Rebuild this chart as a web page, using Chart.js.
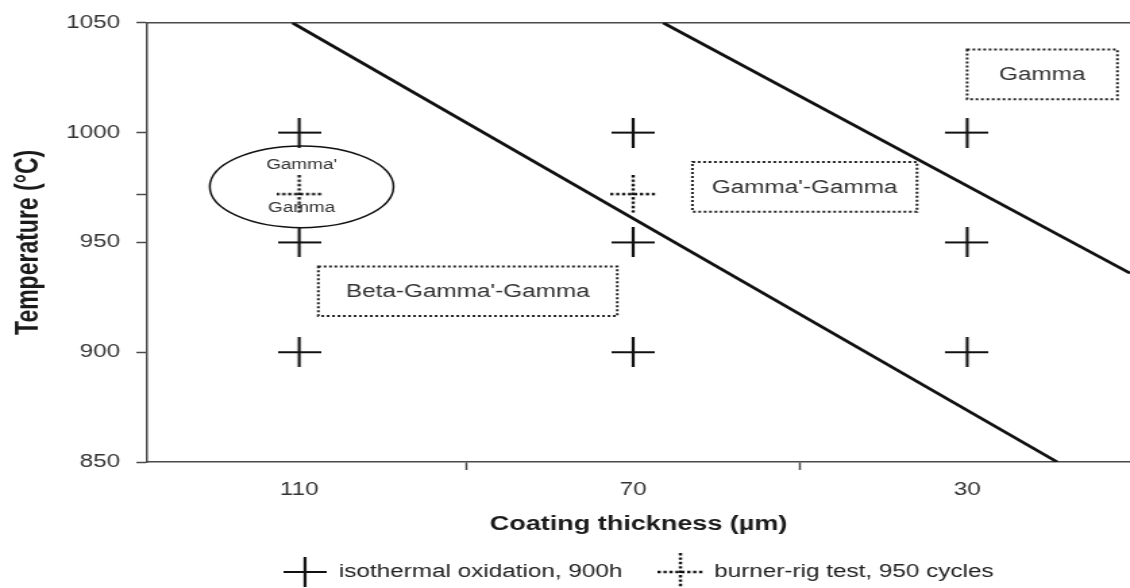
<!DOCTYPE html>
<html>
<head>
<meta charset="utf-8">
<script src="https://cdn.jsdelivr.net/npm/chart.js@4.4.1/dist/chart.umd.min.js"></script>
<style>
  html, body { margin: 0; padding: 0; background: #fff; overflow: hidden; }
  /* the original figure is stretched horizontally, so the whole chart is too */
  #wrap { width: 837px; height: 588px; transform: scaleX(1.35); transform-origin: 0 0; }
  #chart { display: block; width: 837px; height: 588px; }
</style>
</head>
<body>
<div id="wrap"><canvas id="chart" width="837" height="588"></canvas></div>
<script>
'use strict';
/*------------------------------------*\
     Data
\*------------------------------------*/
var thickness = [110, 70, 30];
var isoTemps = [1000, 950, 900];
var burnerThickness = [110, 70];
var burnerTemps = [972, 972];
var limit1Thickness = [110.8, 19.2];
var limit1Temps = [1050, 850];
var limit2Thickness = [66.4, 10.5];
var limit2Temps = [1050, 936];
var xTickValues = [110, 90, 70, 50, 30];
var xTickLabels = ['110', '', '70', '', '30'];
var yTickValues = [1050, 1000, 972, 950, 900, 850];
var yTickLabels = ['1050', '1000', '', '950', '900', '850'];
var seriesNames = ['isothermal oxidation, 900h', 'burner-rig test, 950 cycles'];

// phase regions (data units)
var regionBoxes = [
  { text: 'Beta-Gamma\'-Gamma', x: [107.7, 71.9], y: [939, 916.5] },
  { text: 'Gamma\'-Gamma', x: [62.9, 36.0], y: [986.6, 964] },
  { text: 'Gamma', x: [30.0, 12.0], y: [1037.8, 1015.2] }
];
var ellipseRegion = { x: 109.7, y: 975.3, rx: 11, ry: 18.6, lines: ['Gamma\'', 'Gamma'], lineY: [985.3, 965.8] };

var FONT = 'Liberation Sans';

/*------------------------------------*\
     Points
\*------------------------------------*/
var isoPoints = [];
thickness.forEach(function(t) {
  isoTemps.forEach(function(T) {
    isoPoints.push({ x: t, y: T });
  });
});
var burnerPoints = burnerThickness.map(function(t, i) {
  return { x: t, y: burnerTemps[i] };
});
function toLine(xs, ys) {
  return xs.map(function(v, i) { return { x: v, y: ys[i] }; });
}

function crossIcon(w, h, dotted) {
  var c = document.createElement('canvas');
  c.width = w;
  c.height = h;
  var g = c.getContext('2d');
  g.strokeStyle = '#111';
  g.lineWidth = dotted ? 2.4 : 2.2;
  if (dotted) {
    g.setLineDash([2.4, 2]);
  }
  g.beginPath();
  g.moveTo(0, h / 2);
  g.lineTo(w, h / 2);
  g.moveTo(w / 2, 0);
  g.lineTo(w / 2, h);
  g.stroke();
  return c;
}
var isoIcon = crossIcon(32, 30, false);
var burnerIcon = crossIcon(34, 38, true);

/*------------------------------------*\
     Frame + region labels
\*------------------------------------*/
var regionsPlugin = {
  id: 'regions',
  beforeDatasetsDraw: function(chart) {
    var ctx = chart.ctx;
    var xs = chart.scales.x;
    var ys = chart.scales.y;
    var a = chart.chartArea;
    ctx.save();
    ctx.strokeStyle = '#4a4a4a';
    ctx.lineWidth = 1.5;
    ctx.beginPath();
    ctx.moveTo(a.left, a.top);
    ctx.lineTo(a.right, a.top);
    ctx.stroke();

    ctx.textAlign = 'center';
    ctx.textBaseline = 'middle';
    ctx.fillStyle = '#333';
    ctx.font = '18px "' + FONT + '"';
    regionBoxes.forEach(function(b) {
      var x0 = xs.getPixelForValue(b.x[0]);
      var x1 = xs.getPixelForValue(b.x[1]);
      var y0 = ys.getPixelForValue(b.y[0]);
      var y1 = ys.getPixelForValue(b.y[1]);
      ctx.setLineDash([2, 2]);
      ctx.strokeStyle = '#222';
      ctx.lineWidth = 2;
      ctx.strokeRect(x0, y0, x1 - x0, y1 - y0);
      ctx.setLineDash([]);
      ctx.fillText(b.text, (x0 + x1) / 2, (y0 + y1) / 2 + 1);
    });

    var e = ellipseRegion;
    var cx = xs.getPixelForValue(e.x);
    var cy = ys.getPixelForValue(e.y);
    var rx = Math.abs(xs.getPixelForValue(e.x - e.rx) - cx);
    var ry = Math.abs(ys.getPixelForValue(e.y + e.ry) - cy);
    ctx.strokeStyle = '#111';
    ctx.lineWidth = 1.5;
    ctx.beginPath();
    ctx.ellipse(cx, cy, rx, ry, 0, 0, Math.PI * 2);
    ctx.stroke();
    ctx.font = '14px "' + FONT + '"';
    e.lines.forEach(function(t, i) {
      ctx.fillText(t, cx, ys.getPixelForValue(e.lineY[i]));
    });
    ctx.restore();
  }
};

function labelFor(values, labels, v) {
  var i = values.indexOf(v);
  return i < 0 ? '' : labels[i];
}

/*------------------------------------*\
     Chart
\*------------------------------------*/
var chart = new Chart(document.getElementById('chart'), {
  type: 'scatter',
  data: {
    datasets: [{
      label: seriesNames[0],
      data: isoPoints,
      pointStyle: isoIcon,
      pointRadius: 15
    }, {
      label: seriesNames[1],
      data: burnerPoints,
      pointStyle: burnerIcon,
      pointRadius: 15
    }, {
      label: 'limit1',
      data: toLine(limit1Thickness, limit1Temps),
      showLine: true,
      borderColor: '#111',
      borderWidth: 2.8,
      pointRadius: 0
    }, {
      label: 'limit2',
      data: toLine(limit2Thickness, limit2Temps),
      showLine: true,
      borderColor: '#111',
      borderWidth: 2.8,
      pointRadius: 0
    }]
  },
  options: {
    responsive: false,
    animation: false,
    events: [],
    devicePixelRatio: 1,
    layout: { autoPadding: false, padding: { top: 18, right: 0, bottom: -3, left: 0 } },
    plugins: {
      legend: {
        position: 'bottom',
        fullSize: false,
        labels: {
          usePointStyle: true,
          pointStyleWidth: 32,
          padding: 27,
          color: '#222',
          font: { family: FONT, size: 18 },
          filter: function(item) { return item.datasetIndex < 2; }
        }
      },
      tooltip: { enabled: false }
    },
    scales: {
      x: {
        type: 'linear',
        reverse: true,
        min: 10.5,
        max: 128.2,
        afterBuildTicks: function(scale) {
          scale.ticks = xTickValues.map(function(v) { return { value: v }; });
        },
        afterFit: function(scale) { scale.height = 74; },
        ticks: {
          autoSkip: false,
          maxRotation: 0,
          padding: 9,
          color: '#333',
          font: { family: FONT, size: 18 },
          callback: function(v) { return labelFor(xTickValues, xTickLabels, v); }
        },
        grid: {
          drawOnChartArea: false,
          tickLength: 8,
          tickWidth: 1.5,
          tickColor: function(c) {
            return c.tick && labelFor(xTickValues, xTickLabels, c.tick.value) ? 'rgba(0,0,0,0)' : '#4a4a4a';
          }
        },
        border: { color: '#4a4a4a', width: 1.5 },
        title: {
          display: true,
          text: 'Coating thickness (µm)',
          color: '#1a1a1a',
          font: { family: FONT, size: 20, weight: 'bold' },
          padding: { top: 0, bottom: 0 }
        }
      },
      y: {
        min: 850,
        max: 1050,
        afterBuildTicks: function(scale) {
          scale.ticks = yTickValues.map(function(v) { return { value: v }; });
        },
        afterFit: function(scale) { scale.width = 109; },
        ticks: {
          padding: 12,
          color: '#333',
          font: { family: FONT, size: 18 },
          callback: function(v) { return labelFor(yTickValues, yTickLabels, v); }
        },
        grid: {
          drawOnChartArea: false,
          tickLength: 8,
          tickWidth: 1.5,
          tickColor: '#4a4a4a'
        },
        border: { color: '#4a4a4a', width: 1.5 },
        title: {
          display: true,
          text: 'Temperature (°C)',
          color: '#1a1a1a',
          font: { family: FONT, size: 23, weight: 'bold' },
          padding: { top: 8, bottom: 0 }
        }
      }
    }
  },
  plugins: [regionsPlugin]
});
</script>
</body>
</html>
